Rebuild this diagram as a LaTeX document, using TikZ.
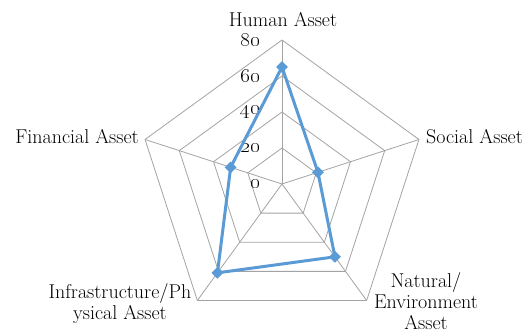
\documentclass[tikz,border=0pt]{standalone}
\usetikzlibrary{shapes.geometric}
\definecolor{serblue}{HTML}{5B9BD5}
\definecolor{gridgray}{HTML}{A3A3A3}
\begin{document}
\begin{tikzpicture}[x=1pt,y=1pt,
  grid/.style={draw=gridgray, line width=0.8pt},
  series/.style={draw=serblue, line width=3pt, line join=round},
  dmark/.style={diamond, fill=serblue, inner sep=0pt, minimum size=12pt},
  axlab/.style={font=\fontsize{20}{21}\selectfont, align=center, inner sep=0pt},
  ticklab/.style={font=\fontsize{22}{24}\selectfont, anchor=east, inner sep=0pt}]
\useasboundingbox (-282,-150) rectangle (248,184);
% axes
\coordinate (c) at (0,0);
\coordinate (ahum) at (90:144);
\coordinate (asoc) at (18:144);
\coordinate (anat) at (-54:144);
\coordinate (ainf) at (-126:144);
\coordinate (afin) at (162:144);
\foreach \r in {36,72,108,144}
  \draw[grid] (90:\r) -- (18:\r) -- (-54:\r) -- (-126:\r) -- (162:\r) -- cycle;
\draw[grid] (c) -- (ahum);
\draw[grid] (c) -- (asoc);
\draw[grid] (c) -- (anat);
\draw[grid] (c) -- (ainf);
\draw[grid] (c) -- (afin);
% scale
\node[ticklab] (t0) at (-22,0) {\oldstylenums{0}};
\node[ticklab] (t20) at (-22,36) {\oldstylenums{20}};
\node[ticklab] (t40) at (-22,72) {\oldstylenums{40}};
\node[ticklab] (t60) at (-22,108) {\oldstylenums{60}};
\node[ticklab] (t80) at (-22,144) {\oldstylenums{80}};
% data
\coordinate (dhum) at (90:117);
\coordinate (dsoc) at (18:37.8);
\coordinate (dnat) at (-54:90);
\coordinate (dinf) at (-126:109.8);
\coordinate (dfin) at (162:54);
\draw[series] (dhum) -- (dsoc) -- (dnat) -- (dinf) -- (dfin) -- cycle;
\node[dmark] (mhum) at (dhum) {};
\node[dmark] (msoc) at (dsoc) {};
\node[dmark] (mnat) at (dnat) {};
\node[dmark] (minf) at (dinf) {};
\node[dmark] (mfin) at (dfin) {};
% labels
\node[axlab] (lhum) at (1,164) {Human Asset};
\node[axlab, anchor=west] (lsoc) at (144,47) {Social Asset};
\node[axlab] (lnat) at (144,-117) {Natural/\\Environment\\Asset};
\node[axlab] (linf) at (-162,-120) {Infrastructure/Ph\\ysical Asset};
\node[axlab, anchor=east] (lfin) at (-143,47) {Financial Asset};
\end{tikzpicture}
\end{document}
